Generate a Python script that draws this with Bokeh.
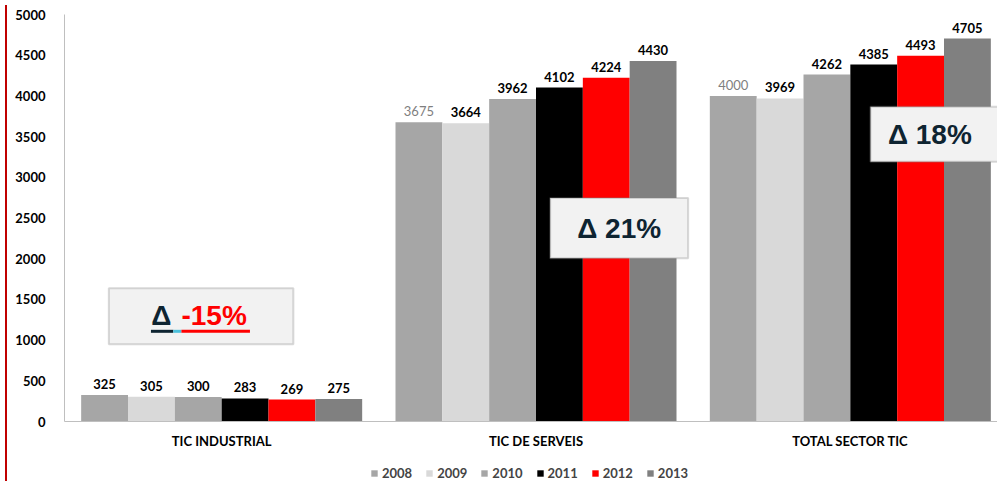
from bokeh.plotting import figure
from bokeh.models import (ColumnDataSource, FactorRange, LabelSet, BoxAnnotation, Label,
                          Legend, LegendItem, FixedTicker, Div)
from bokeh.layouts import row, column
from bokeh.core.properties import value
from bokeh.transform import dodge
from bokeh.embed import file_html
from bokeh.resources import INLINE

categories = ["TIC INDUSTRIAL", "TIC DE SERVEIS", "TOTAL SECTOR TIC"]
years = ["2008", "2009", "2010", "2011", "2012", "2013"]
v2008 = [325, 3675, 4000]
v2009 = [305, 3664, 3969]
v2010 = [300, 3962, 4262]
v2011 = [283, 4102, 4385]
v2012 = [269, 4224, 4493]
v2013 = [275, 4430, 4705]
series = [v2008, v2009, v2010, v2011, v2012, v2013]
colors = ["#A6A6A6", "#D9D9D9", "#A6A6A6", "#000000", "#FF0000", "#808080"]
y_ticks = list(range(0, 5001, 500))
deltas = ["-15%", "21%", "18%"]

FONT = "Lato"
BIG = "Liberation Sans"
DARK = "#0E2431"

data = {"cat": categories}
for yr, vals in zip(years, series):
    data["y" + yr] = vals
    data["t" + yr] = [str(v) for v in vals]
    if yr == "2008":
        data["c" + yr] = ["#000000", "#7F7F7F", "#7F7F7F"]
        data["s" + yr] = ["bold", "normal", "normal"]
    else:
        data["c" + yr] = ["#000000"] * 3
        data["s" + yr] = ["bold"] * 3
source = ColumnDataSource(data)

W = 995
p = figure(x_range=FactorRange(factors=categories, range_padding=0), y_range=(0, 5000),
           width=W, height=463, output_backend="svg", toolbar_location=None,
           min_border_left=49, min_border_right=0, min_border_top=14, min_border_bottom=42)
p.outline_line_color = None
p.xgrid.grid_line_color = None
p.ygrid.grid_line_color = None

bw = 0.149
offsets = [(i - 2.5) * bw for i in range(6)]
for yr, col, off in zip(years, colors, offsets):
    p.vbar(x=dodge("cat", off, range=p.x_range), top="y" + yr, width=bw,
           source=source, fill_color=col, line_color=None)
    ls = LabelSet(x=dodge("cat", off, range=p.x_range), y="y" + yr, text="t" + yr,
                  source=source, text_align="center", text_baseline="bottom", y_offset=6,
                  text_font=value(FONT), text_font_size=value("13px"), text_color="c" + yr,
                  text_font_style="s" + yr)
    p.add_layout(ls)

# axes
p.yaxis.ticker = FixedTicker(ticks=y_ticks)
p.yaxis.axis_line_color = "#BFBFBF"
p.yaxis.major_tick_line_color = None
p.yaxis.minor_tick_line_color = None
p.yaxis.major_label_text_font = FONT
p.yaxis.major_label_text_font_style = "bold"
p.yaxis.major_label_text_font_size = "13px"
p.yaxis.major_label_text_color = "#000000"
p.yaxis.major_label_standoff = 13

p.xaxis.axis_line_color = "#BFBFBF"
p.xaxis.major_tick_line_color = None
p.xaxis.minor_tick_line_color = None
p.xaxis.major_label_text_font = FONT
p.xaxis.major_label_text_font_style = "bold"
p.xaxis.major_label_text_font_size = "13px"
p.xaxis.major_label_text_color = "#000000"
p.xaxis.major_label_standoff = 5

# annotation boxes (data coordinates of synthetic categorical axis)
boxes = [(0.141, 0.728, 948, 1638), (1.545, 1.984, 2007, 2746), (2.564, 3.05, 3190, 3867)]
for (l, r_, b, t) in boxes:
    p.add_layout(BoxAnnotation(left=l, right=r_, bottom=b, top=t, fill_color="#F2F2F2",
                               fill_alpha=1, line_color="#808080", line_width=2))

# box 1: split coloured text with underline
p.add_layout(Label(x=0.276, y=1305, text="Δ", text_font=BIG, text_font_size="28px",
                   text_font_style="bold", text_color=DARK, text_align="left", text_baseline="middle"))
p.add_layout(Label(x=0.372, y=1305, text=deltas[0], text_font=BIG, text_font_size="28px",
                   text_font_style="bold", text_color="#FF0000", text_align="left", text_baseline="middle"))
u1 = p.segment(x0=[0.275], y0=[1108], x1=[0.346], y1=[1108], line_color=DARK, line_width=3)
u2 = p.segment(x0=[0.346], y0=[1108], x1=[0.372], y1=[1108], line_color="#4BC0DB", line_width=3)
u3 = p.segment(x0=[0.372], y0=[1108], x1=[0.590], y1=[1108], line_color="#FF0000", line_width=3)
for u in (u1, u2, u3):
    u.level = "overlay"

p.add_layout(Label(x=(1.545 + 1.984) / 2, y=2376, text="Δ " + deltas[1], text_font=BIG,
                   text_font_size="28px", text_font_style="bold", text_color=DARK,
                   text_align="center", text_baseline="middle"))
p.add_layout(Label(x=2.753, y=3528, text="Δ " + deltas[2], text_font=BIG,
                   text_font_size="28px", text_font_style="bold", text_color=DARK,
                   text_align="center", text_baseline="middle"))

# legend in a thin strip figure below
lg = figure(width=W, height=18, x_range=(0, 1), y_range=(0, 1), output_backend="svg",
            toolbar_location=None, min_border=0, min_border_left=0, min_border_right=0,
            min_border_top=3)
lg.axis.visible = False
lg.grid.visible = False
lg.outline_line_color = None
items = []
for yr, col in zip(years, colors):
    r = lg.vbar(x=[5], top=[5], width=1, fill_color=col, line_color=None)
    items.append(LegendItem(label=yr, renderers=[r]))
legend = Legend(items=items, orientation="horizontal", location=(306, 0),
                glyph_width=8, glyph_height=8, label_text_font=FONT,
                label_text_font_style="bold", label_text_font_size="13px",
                label_standoff=4, spacing=13, padding=0, margin=0,
                border_line_color=None, background_fill_alpha=0, label_height=14)
lg.add_layout(legend)

red_bar = Div(text="", width=2, height=481, styles={"background-color": "#C00000"})
layout = row(red_bar, column(p, lg, spacing=0), spacing=0)

open("out.html", "w").write(file_html(layout, INLINE))
